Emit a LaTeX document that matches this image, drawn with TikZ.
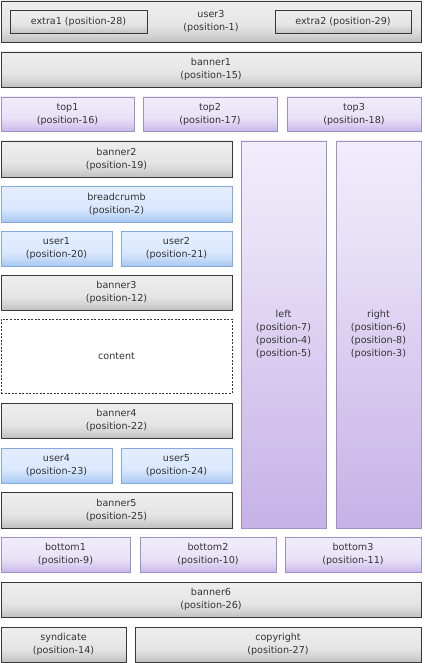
\documentclass[tikz,border=0pt]{standalone}
\usepackage{fontspec}
\setmainfont{DejaVu Sans}
\usetikzlibrary{shadows}
\definecolor{txt}{HTML}{333333}
\definecolor{gbord}{HTML}{383838}
\definecolor{pbord}{HTML}{9C90C4}
\definecolor{bbord}{HTML}{86A9DC}
\definecolor{ga}{HTML}{C0C0C0}\definecolor{gb}{HTML}{D6D6D6}\definecolor{gc}{HTML}{E5E5E5}\definecolor{gd}{HTML}{EEEEEE}
\definecolor{ba}{HTML}{A6C6F0}\definecolor{bb}{HTML}{C4DAF8}\definecolor{bc}{HTML}{DBE8FE}\definecolor{bd}{HTML}{E4EEFF}
\definecolor{pa}{HTML}{C8B6E8}\definecolor{pb}{HTML}{DCD0F2}\definecolor{pc}{HTML}{E9E2F7}\definecolor{pd}{HTML}{F1EDFA}
\definecolor{ca}{HTML}{C6B2E6}\definecolor{cb}{HTML}{DCD0F1}\definecolor{cc}{HTML}{E8E1F7}\definecolor{cd}{HTML}{F1EDFB}
\pgfdeclareverticalshading{greysh}{100bp}{color(0bp)=(ga); color(25bp)=(ga); color(35bp)=(gb); color(45bp)=(gc); color(75bp)=(gd); color(100bp)=(gd)}
\pgfdeclareverticalshading{bluesh}{100bp}{color(0bp)=(ba); color(25bp)=(ba); color(35bp)=(bb); color(45bp)=(bc); color(75bp)=(bd); color(100bp)=(bd)}
\pgfdeclareverticalshading{purpsh}{100bp}{color(0bp)=(pa); color(25bp)=(pa); color(35bp)=(pb); color(45bp)=(pc); color(75bp)=(pd); color(100bp)=(pd)}
\pgfdeclareverticalshading{colsh}{100bp}{color(0bp)=(ca); color(25bp)=(ca); color(50bp)=(cb); color(62bp)=(cc); color(75bp)=(cd); color(100bp)=(cd)}
\tikzset{
  box/.style={inner sep=0pt, outer sep=0pt, align=center, text=txt,
    font=\fontsize{9.6}{13}\selectfont, line width=0.8pt,
    drop shadow={shadow xshift=1.2pt, shadow yshift=-1.2pt, opacity=0.25, fill=black}},
  greybox/.style={box, draw=gbord, shading=greysh},
  purplebox/.style={box, draw=pbord, shading=purpsh},
  bluebox/.style={box, draw=bbord, shading=bluesh},
  colbox/.style={box, draw=pbord, shading=colsh},
  contentbox/.style={inner sep=0pt, outer sep=0pt, align=center, text=txt,
    font=\fontsize{9.6}{13}\selectfont, line width=0.8pt, draw=gbord, fill=white,
    dash pattern=on 2pt off 1.5pt},
}
\begin{document}
\begin{tikzpicture}[x=1pt,y=-1pt]
\useasboundingbox[fill=white] (0,0) rectangle (424,663);
% top strip
\node[greybox, minimum width=420pt, minimum height=41pt] (user3) at (211,21.5) {user3\\(position-1)};
\node[greybox, minimum width=137pt, minimum height=23pt] (extra1) at (78.5,21.5) {extra1 (position-28)};
\node[greybox, minimum width=136pt, minimum height=23pt] (extra2) at (343,21.5) {extra2 (position-29)};
\node[greybox, minimum width=420pt, minimum height=35pt] (banner1) at (211,69.5) {banner1\\(position-15)};
\node[purplebox, minimum width=133pt, minimum height=34pt] (top1) at (67.5,114) {top1\\(position-16)};
\node[purplebox, minimum width=134pt, minimum height=34pt] (top2) at (210,114) {top2\\(position-17)};
\node[purplebox, minimum width=134pt, minimum height=34pt] (top3) at (354,114) {top3\\(position-18)};
% columns
\node[colbox, minimum width=85pt, minimum height=387pt] (left) at (283.5,334.5) {left\\(position-7)\\(position-4)\\(position-5)};
\node[colbox, minimum width=85pt, minimum height=387pt] (right) at (378.5,334.5) {right\\(position-6)\\(position-8)\\(position-3)};
% main column
\node[greybox, minimum width=231pt, minimum height=36pt] (banner2) at (116.5,159) {banner2\\(position-19)};
\node[bluebox, minimum width=231pt, minimum height=36pt] (breadcrumb) at (116.5,204) {breadcrumb\\(position-2)};
\node[bluebox, minimum width=111pt, minimum height=35pt] (user1) at (56.5,248.5) {user1\\(position-20)};
\node[bluebox, minimum width=111pt, minimum height=35pt] (user2) at (176.5,248.5) {user2\\(position-21)};
\node[greybox, minimum width=231pt, minimum height=35pt] (banner3) at (116.5,292.5) {banner3\\(position-12)};
\node[contentbox, minimum width=231pt, minimum height=74pt] (content) at (116.5,356) {content};
\node[greybox, minimum width=231pt, minimum height=35pt] (banner4) at (116.5,420.5) {banner4\\(position-22)};
\node[bluebox, minimum width=111pt, minimum height=35pt] (user4) at (56.5,465.5) {user4\\(position-23)};
\node[bluebox, minimum width=111pt, minimum height=35pt] (user5) at (176.5,465.5) {user5\\(position-24)};
\node[greybox, minimum width=231pt, minimum height=36pt] (banner5) at (116.5,510) {banner5\\(position-25)};
% bottom
\node[purplebox, minimum width=129pt, minimum height=35pt] (bottom1) at (65.5,554.5) {bottom1\\(position-9)};
\node[purplebox, minimum width=136pt, minimum height=35pt] (bottom2) at (208,554.5) {bottom2\\(position-10)};
\node[purplebox, minimum width=136pt, minimum height=35pt] (bottom3) at (353,554.5) {bottom3\\(position-11)};
\node[greybox, minimum width=420pt, minimum height=35pt] (banner6) at (211,599.5) {banner6\\(position-26)};
\node[greybox, minimum width=125pt, minimum height=35pt] (syndicate) at (63.5,644.5) {syndicate\\(position-14)};
\node[greybox, minimum width=286pt, minimum height=35pt] (copyright) at (278,644.5) {copyright\\(position-27)};
\end{tikzpicture}
\end{document}
